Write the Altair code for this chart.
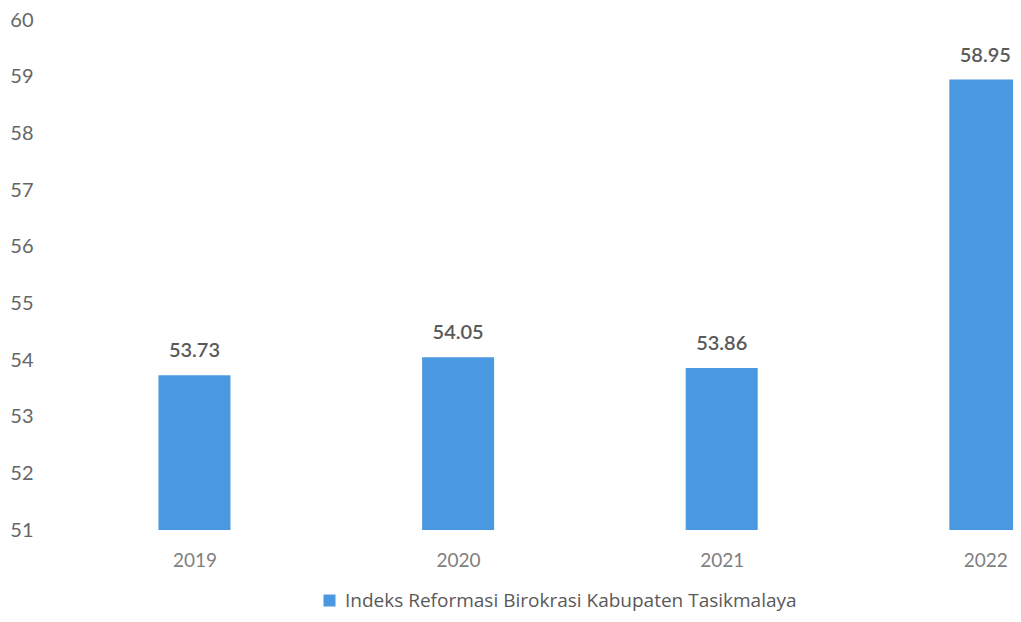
import altair as alt
import pandas as pd

years = [2019, 2020, 2021, 2022]
values = [53.73, 54.05, 53.86, 58.95]
series = "Indeks Reformasi Birokrasi Kabupaten Tasikmalaya"
y_ticks = [51, 52, 53, 54, 55, 56, 57, 58, 59, 60]

df = pd.DataFrame({"year": years, "value": values, "series": [series] * len(years)})

FONT = "Lato"
BAR = "#4a98e0"

x = alt.X("year:Q",
          scale=alt.Scale(domain=[2018.433, 2022.086], nice=False, zero=False),
          axis=alt.Axis(values=years, format="d", title=None, domain=False, ticks=False,
                        grid=False, labelFontSize=19, labelColor="#7f7f7f", labelFont=FONT,
                        labelPadding=21))
y = alt.Y("value:Q",
          scale=alt.Scale(domain=[51, 60], nice=False, zero=False),
          axis=alt.Axis(values=y_ticks, title=None, domain=False, ticks=False, grid=False,
                        labelFontSize=20, labelColor="#666666", labelFont=FONT,
                        labelPadding=7))

bars = alt.Chart(df).mark_bar(size=72, clip=True, color=BAR).encode(
    x=x, y=y, y2=alt.datum(51),
    color=alt.Color("series:N", scale=alt.Scale(range=[BAR]),
                    legend=alt.Legend(title=None, orient="none", legendX=280, legendY=571,
                                      symbolType="square", symbolSize=144,
                                      labelFontSize=19, labelFont="Open Sans",
                                      labelColor="#595959", labelOffset=6,
                                      labelLimit=800, symbolStrokeWidth=0))
)

labels = alt.Chart(df).mark_text(baseline="bottom", dy=-14, fontSize=20, font=FONT,
                                 fontWeight=600, color="#595959", clip=False).encode(
    x=x, y=y, text=alt.Text("value:Q", format=".2f")
)

chart = alt.layer(bars, labels).properties(
    width=973, height=510,
    autosize=alt.AutoSizeParams(type="none"),
    padding={"left": 32, "top": 12, "right": 0, "bottom": 84},
).configure_view(stroke=None)

chart.save("out.html", embed_options={"renderer": "svg", "actions": False})
